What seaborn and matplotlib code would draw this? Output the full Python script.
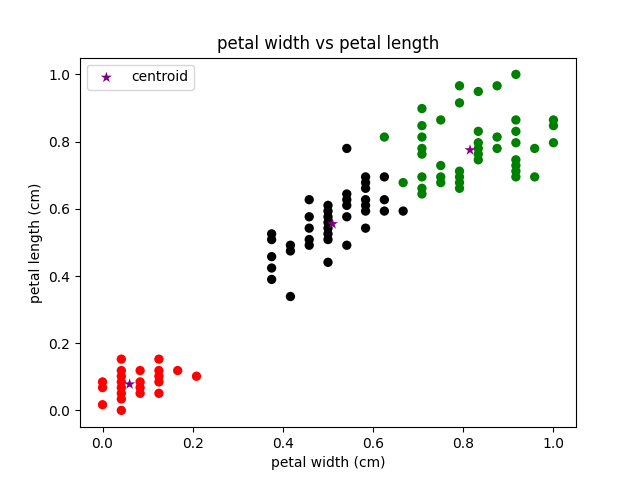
import numpy as np
import matplotlib
matplotlib.use("Agg")
import matplotlib.pyplot as plt
import seaborn as sns

# iris petal (width, length) in cm, grouped by cluster
red_w = [0.1, 0.1, 0.1, 0.2, 0.2, 0.2, 0.2, 0.2, 0.2, 0.2, 0.2, 0.3, 0.3, 0.3, 0.3, 0.4, 0.4, 0.4, 0.4, 0.4, 0.5, 0.6]
red_l = [1.1, 1.4, 1.5, 1.0, 1.2, 1.3, 1.4, 1.5, 1.6, 1.7, 1.9, 1.3, 1.4, 1.5, 1.7, 1.3, 1.5, 1.6, 1.7, 1.9, 1.7, 1.6]

black_w = [1.0, 1.0, 1.0, 1.0, 1.0, 1.1, 1.1, 1.1, 1.2, 1.2, 1.2, 1.2, 1.2,
           1.3, 1.3, 1.3, 1.3, 1.3, 1.3, 1.3, 1.3, 1.4, 1.4, 1.4, 1.4, 1.4, 1.4,
           1.5, 1.5, 1.5, 1.5, 1.5, 1.5, 1.5, 1.6, 1.6, 1.6, 1.7]
black_l = [3.3, 3.5, 3.7, 4.0, 4.1, 3.0, 3.8, 3.9, 3.9, 4.0, 4.2, 4.4, 4.7,
           3.6, 4.0, 4.1, 4.2, 4.3, 4.4, 4.5, 4.6, 3.9, 4.4, 4.6, 4.7, 4.8, 5.6,
           4.2, 4.5, 4.6, 4.7, 4.9, 5.0, 5.1, 4.5, 4.7, 5.1, 4.5]

green_w = [1.6, 1.7, 1.8, 1.8, 1.8, 1.8, 1.8, 1.8, 1.8, 1.8, 1.9, 1.9, 1.9, 1.9,
           2.0, 2.0, 2.0, 2.0, 2.0, 2.0, 2.1, 2.1, 2.1, 2.1, 2.1, 2.1, 2.2, 2.2, 2.2,
           2.3, 2.3, 2.3, 2.3, 2.3, 2.3, 2.3, 2.3, 2.4, 2.4, 2.5, 2.5, 2.5]
green_l = [5.8, 5.0, 4.8, 4.9, 5.1, 5.5, 5.6, 5.8, 6.0, 6.3, 5.0, 5.1, 5.3, 6.1,
           4.9, 5.0, 5.1, 5.2, 6.4, 6.7, 5.4, 5.5, 5.6, 5.7, 5.9, 6.6, 5.6, 5.8, 6.7,
           5.1, 5.2, 5.3, 5.4, 5.7, 5.9, 6.1, 6.9, 5.1, 5.6, 5.7, 6.0, 6.1]

# centroids in scaled units
cent_x = [0.06, 0.51, 0.815]
cent_y = [0.078, 0.555, 0.775]

w_min, w_max = 0.1, 2.5
l_min, l_max = 1.0, 6.9

def sx(v):
    return (np.array(v) - w_min) / (w_max - w_min)

def sy(v):
    return (np.array(v) - l_min) / (l_max - l_min)

fig, ax = plt.subplots(figsize=(6.4, 4.8), dpi=100)
for w, l, c in [(red_w, red_l, "red"), (black_w, black_l, "black"), (green_w, green_l, "green")]:
    sns.scatterplot(x=sx(w), y=sy(l), color=c, s=45, edgecolor="none", ax=ax)
sns.scatterplot(x=cent_x, y=cent_y, color="purple", marker="*", s=70,
                edgecolor="none", label="centroid", ax=ax)

ax.set_title("petal width vs petal length")
ax.set_xlabel("petal width (cm)")
ax.set_ylabel("petal length (cm)")
ax.legend(loc="upper left")
plt.savefig("out.png")
